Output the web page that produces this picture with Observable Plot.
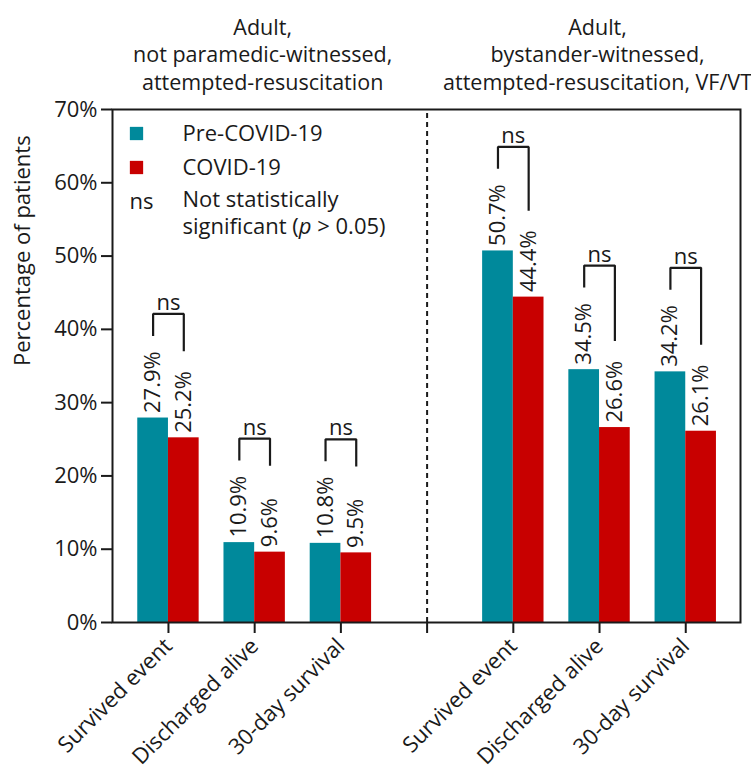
<!DOCTYPE html>
<html><head><meta charset="utf-8">
<script src="https://cdn.jsdelivr.net/npm/d3@7"></script>
<script src="https://cdn.jsdelivr.net/npm/@observablehq/plot@0.6"></script>
<style>body{margin:0;background:#fff}</style>
</head><body><div id="chart"></div>
<script>
const outcomes = ["Survived event", "Discharged alive", "30-day survival"];
const groupTitles = [
  "Adult,\nnot paramedic-witnessed,\nattempted-resuscitation",
  "Adult,\nbystander-witnessed,\nattempted-resuscitation, VF/VT"
];
const preCovid = [[27.9, 10.9, 10.8], [50.7, 34.5, 34.2]];
const covid19 = [[25.2, 9.6, 9.5], [44.4, 26.6, 26.1]];
const sigLabels = [["ns", "ns", "ns"], ["ns", "ns", "ns"]];
const seriesNames = ["Pre-COVID-19", "COVID-19"];
const legendNs = "ns";
const legendNote = "Not statistically\nsignificant (p > 0.05)";
const yTicks = [0, 10, 20, 30, 40, 50, 60, 70];
const yLabel = "Percentage of patients";

const FONT = "Open Sans";
const colors = ["#00899b", "#c80000"];
const ink = "#1a1a1a";
const half = 0.356;

// slots: group g, outcome k -> g*4 + k (slot 3 is the divider)
const bars = [], brackets = [], sig = [], labels = [];
const tickSlots = [0, 1, 2, 3, 4, 5, 6];
const tickNames = new Map();
groupTitles.forEach((t, g) => {
  outcomes.forEach((o, k) => {
    const s = g * 4 + k;
    tickNames.set(s, o);
    const p = preCovid[g][k], c = covid19[g][k];
    bars.push({x1: s - half, x2: s, v: p, series: seriesNames[0]});
    bars.push({x1: s, x2: s + half, v: c, series: seriesNames[1]});
    labels.push({x: s - half / 2, v: p, t: p.toFixed(1) + "%"});
    labels.push({x: s + half / 2, v: c, t: c.toFixed(1) + "%"});
    const top = p + 14.2;
    brackets.push({id: s, x: s - half / 2, y: p + 11.2});
    brackets.push({id: s, x: s - half / 2, y: top});
    brackets.push({id: s, x: s + half / 2, y: top});
    brackets.push({id: s, x: s + half / 2, y: c + 11.8});
    sig.push({x: s, y: top, t: sigLabels[g][k]});
  });
});
tickNames.set(3, "");

const chart = Plot.plot({
  width: 751, height: 778,
  marginTop: 109, marginBottom: 156, marginLeft: 112, marginRight: 11,
  style: {fontFamily: FONT, fontSize: "22px", color: ink, background: "#fff"},
  x: {type: "linear", domain: [-0.649, 6.635]},
  y: {domain: [0, 70]},
  color: {domain: seriesNames, range: colors},
  marks: [
    Plot.rectY(bars, {x1: "x1", x2: "x2", y: "v", fill: "series"}),
    Plot.ruleX([3], {y1: 0, y2: 70, stroke: ink, strokeWidth: 2, strokeDasharray: "5,4"}),
    Plot.frame({stroke: ink, strokeWidth: 2}),
    Plot.axisY({ticks: yTicks, tickFormat: d => d + "%", tickSize: 11, tickPadding: 4, strokeWidth: 2, stroke: ink, fontSize: 22, label: null}),
    Plot.axisX({ticks: tickSlots, tickFormat: d => tickNames.get(d), tickSize: 11, tickPadding: 9, tickRotate: -45, strokeWidth: 2, stroke: ink, fontSize: 22, label: null}),
    Plot.text(labels, {x: "x", y: "v", text: "t", rotate: -90, textAnchor: "start", dy: -5, fontSize: 22, fill: ink}),
    Plot.line(brackets, {x: "x", y: "y", z: "id", stroke: ink, strokeWidth: 2.2, strokeLinejoin: "miter", strokeLinecap: "butt"}),
    Plot.text(sig, {x: "x", y: "y", text: "t", lineAnchor: "bottom", dy: -4, fontSize: 22, fill: ink}),
    Plot.text([groupTitles[0]], {x: [1], text: d => d, frameAnchor: "top", lineAnchor: "bottom", dy: -20, dx: 8, lineHeight: 1.27, fontSize: 21.5, fill: ink}),
    Plot.text([groupTitles[1]], {x: [5], text: d => d, frameAnchor: "top", lineAnchor: "bottom", dy: -20, dx: -2, lineHeight: 1.27, fontSize: 21.5, fill: ink}),
    Plot.text([yLabel], {text: d => d, frameAnchor: "left", rotate: -90, dx: -90, fontSize: 22, fill: ink}),
    // legend
    Plot.dot([seriesNames[0]], {frameAnchor: "top-left", dx: 24, dy: 24, symbol: "square", r: 7.5, fill: d => d}),
    Plot.dot([seriesNames[1]], {frameAnchor: "top-left", dx: 24, dy: 58, symbol: "square", r: 7.5, fill: d => d}),
    Plot.text([seriesNames[0]], {text: d => d, frameAnchor: "top-left", dx: 70, dy: 24, textAnchor: "start", lineAnchor: "middle", fontSize: 22, fill: ink}),
    Plot.text([seriesNames[1]], {text: d => d, frameAnchor: "top-left", dx: 70, dy: 58, textAnchor: "start", lineAnchor: "middle", fontSize: 22, fill: ink}),
    Plot.text([legendNs], {text: d => d, frameAnchor: "top-left", dx: 17, dy: 92, textAnchor: "start", lineAnchor: "middle", fontSize: 22, fill: ink}),
    Plot.text([legendNote], {text: d => d, frameAnchor: "top-left", dx: 70, dy: 78, textAnchor: "start", lineAnchor: "top", lineHeight: 1.23, fontSize: 22, fill: ink})
  ]
});
document.getElementById("chart").append(chart);

// italicise the "p" in the legend note
d3.select(chart).selectAll("tspan").each(function () {
  const txt = this.textContent;
  const i = txt.indexOf("(p ");
  if (i < 0) return;
  const sel = d3.select(this);
  sel.text(null);
  sel.append("tspan").text(txt.slice(0, i + 1));
  sel.append("tspan").attr("font-style", "italic").text("p");
  sel.append("tspan").text(txt.slice(i + 2));
});
</script>
</body></html>
